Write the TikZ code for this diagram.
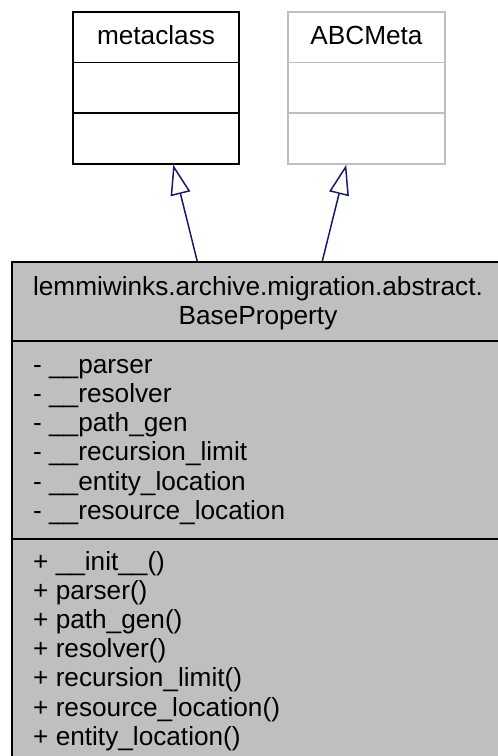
\documentclass[tikz,border=0pt]{standalone}
\usepackage{fontspec}
\setmainfont{Liberation Sans}
\usetikzlibrary{arrows.meta}
\definecolor{navy}{RGB}{25,25,112}
\definecolor{boxgray}{RGB}{191,191,191}
\definecolor{lightedge}{RGB}{191,191,191}
\begin{document}
\begin{tikzpicture}[x=1pt,y=-1pt,
  every node/.style={font=\fontsize{26.2}{29}\selectfont, inner sep=0pt},
  classbox/.style={draw, line width=1.5pt, rectangle, minimum height=152pt},
  lbl/.style={anchor=base west},
  ttl/.style={anchor=base},
  divider/.style={line width=1.5pt},
  inh/.style={draw=navy, line width=1.5pt, -{Triangle[open,length=30pt,width=20pt]}}]
\useasboundingbox (0,0) rectangle (498,756);
\clip (0,0) rectangle (498,756);

% top classes
\node[classbox, minimum width=166pt] (meta) at (156,88) {};
\draw[divider] (meta.west |- 0,62.7) -- (meta.east |- 0,62.7);
\draw[divider] (meta.west |- 0,113) -- (meta.east |- 0,113);
\node[ttl] (metaT) at (156,44) {metaclass};

\node[classbox, draw=lightedge, minimum width=157pt] (abc) at (366.5,88) {};
\draw[divider, lightedge] (abc.west |- 0,62.7) -- (abc.east |- 0,62.7);
\draw[divider, lightedge] (abc.west |- 0,113) -- (abc.east |- 0,113);
\node[ttl] (abcT) at (366.5,44) {ABCMeta};

% main class
\node[draw, fill=boxgray, line width=1.5pt, minimum width=492pt, minimum height=498pt] (main) at (258,511) {};
\draw[divider] (main.west |- 0,341) -- (main.east |- 0,341);
\draw[divider] (main.west |- 0,539) -- (main.east |- 0,539);
\node[ttl] (t1) at (258,295) {lemmiwinks.archive.migration.abstract.};
\node[ttl] (t2) at (258,324) {BaseProperty};

\node[lbl] (a1) at (33,373.0) {- \_\_parser};
\node[lbl] (a2) at (33,402.3) {- \_\_resolver};
\node[lbl] (a3) at (33,431.6) {- \_\_path\_gen};
\node[lbl] (a4) at (33,460.9) {- \_\_recursion\_limit};
\node[lbl] (a5) at (33,490.2) {- \_\_entity\_location};
\node[lbl] (a6) at (33,519.5) {- \_\_resource\_location};

\node[lbl] (m1) at (33,570.0) {+ \_\_init\_\_()};
\node[lbl] (m2) at (33,599.2) {+ parser()};
\node[lbl] (m3) at (33,628.4) {+ path\_gen()};
\node[lbl] (m4) at (33,657.6) {+ resolver()};
\node[lbl] (m5) at (33,686.8) {+ recursion\_limit()};
\node[lbl] (m6) at (33,716.0) {+ resource\_location()};
\node[lbl] (m7) at (33,745.2) {+ entity\_location()};

% inheritance
\draw[inh] ([xshift=186pt]main.north west) -- ([xshift=101pt]meta.south west);
\draw[inh] ([xshift=311pt]main.north west) -- ([xshift=59pt]abc.south west);
\end{tikzpicture}
\end{document}
